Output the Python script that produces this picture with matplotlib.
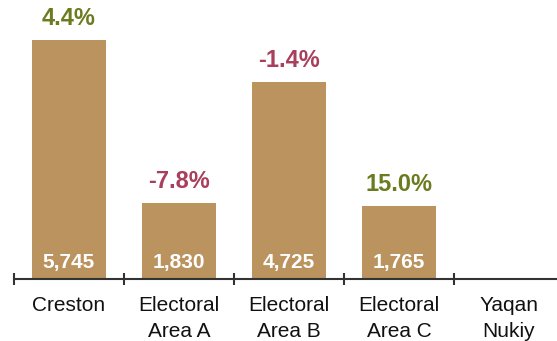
import matplotlib
matplotlib.use("Agg")
import matplotlib.pyplot as plt

plt.rcParams['font.family'] = ['Liberation Sans', 'DejaVu Sans']

categories = ["Creston", "Electoral\nArea A", "Electoral\nArea B", "Electoral\nArea C", "Yaqan\nNukiy"]
population = [5745, 1830, 4725, 1765, None]
pct_change = [4.4, -7.8, -1.4, 15.0, None]

bar_color = "#BA935E"
pos_color = "#6B7B1F"
neg_color = "#A83F5C"

W, H = 557, 341
fig = plt.figure(figsize=(W / 100, H / 100), dpi=100)
ax = fig.add_axes([0, 0, 1, 1])

# pixel geometry of the plotting area
cat_px = 110.0
first_center_px = 69.0
baseline_px = 279.0
units_per_px = 5745 / 239.0

ax.set_xlim(-first_center_px / cat_px, (W - first_center_px) / cat_px)
ax.set_ylim(-(H - baseline_px) * units_per_px, baseline_px * units_per_px)

xs = list(range(len(categories)))
for x, v, p in zip(xs, population, pct_change):
    if v is None:
        continue
    ax.bar(x, v, width=0.675, color=bar_color, edgecolor="none", zorder=2)
    ax.annotate(f"{v:,}", (x, 0), xytext=(0, 12), textcoords="offset points",
                ha="center", va="center", color="white", fontsize=15,
                fontweight="bold", zorder=3)
    if p is not None:
        ax.annotate(f"{p:.1f}%", (x, v), xytext=(0, 15.5), textcoords="offset points",
                    ha="center", va="center", fontsize=17, fontweight="bold",
                    color=pos_color if p >= 0 else neg_color)

# category axis
for s in ["top", "right", "left"]:
    ax.spines[s].set_visible(False)
ax.spines["bottom"].set_position(("data", 0))
ax.spines["bottom"].set_bounds(-0.5, ax.get_xlim()[1])
ax.spines["bottom"].set_linewidth(1.5)
ax.spines["bottom"].set_color("#333333")
ax.set_xticks([x - 0.5 for x in xs])
ax.set_xticklabels([])
ax.tick_params(axis="x", direction="inout", length=9, width=1.5, color="#333333")
ax.set_yticks([])

for x, label in zip(xs, categories):
    for i, line in enumerate(label.split("\n")):
        ax.annotate(line, (x, 0), xytext=(0, -19.2 - 18.5 * i), textcoords="offset points",
                    ha="center", va="center", fontsize=15, color="#111111")

fig.savefig("out.png", dpi=100)
